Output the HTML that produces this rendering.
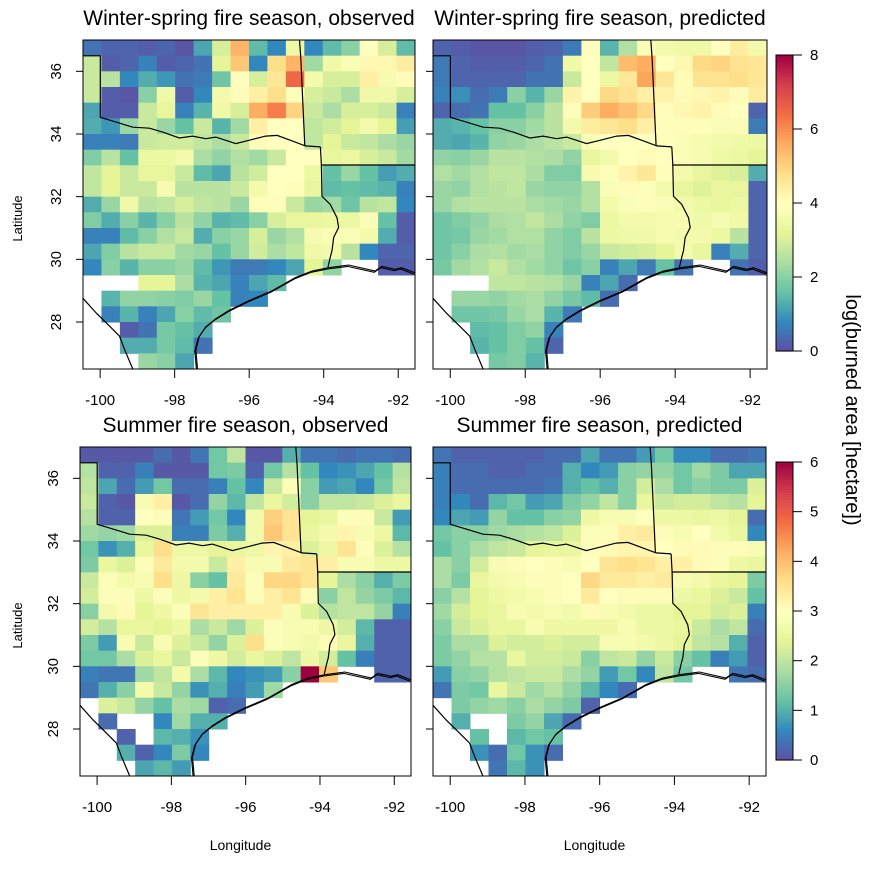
<!DOCTYPE html>
<html><head><meta charset="utf-8"><style>
html,body{margin:0;padding:0;background:#fff;}
svg{display:block;font-family:"Liberation Sans",Arial,sans-serif;}
</style></head><body>
<svg id="chart" width="889" height="872" viewBox="0 0 889 872" xmlns="http://www.w3.org/2000/svg"></svg>
<script>
const N = null;
// Winter-spring observed (rows north->south, 18 cols west->east)
const obsWS = [
[0.5,0.3,0.3,0.2,0.3,0.1,1.2,3,5.5,1.5,0.8,3.5,0.8,1.5,2,4,3,1.5],
[2.8,0.2,0.3,0.7,0.2,0.3,0.5,3.2,5.2,0.8,4.8,5.5,2.3,3.5,3.8,4.2,4.2,4.5],
[2.8,2.6,0.8,1.3,1.0,0.5,0.6,1.7,4,3,4.6,6.5,3.6,3,3,4.4,3.7,4.1],
[2.8,0.2,0.1,2,3.5,0.2,0.8,3.6,4.1,4.4,4.8,3.9,3,2.8,2.4,3.5,3.5,3],
[1.2,0.2,0.2,2.8,3.3,0.7,1.4,3.5,3,5.6,6.2,5,2.8,2.4,3,3,2.8,0.7],
[1.3,1,2.2,2.8,2.2,1.6,2.8,1.4,2.3,4.4,4,4,2.7,2.9,3.2,3.6,3.2,1.1],
[0.7,0.7,0.6,2.8,2.9,2.9,2.7,2.4,2.8,4.1,4,4,2.7,3.2,2.8,2.7,2.4,2.2],
[1.9,2.6,1.6,3.4,3.4,3.6,2.4,2.1,2.5,2.3,2.8,4,4,3.3,3.4,3,2.8,2.3],
[2.7,3.2,2.8,3.3,3.3,2.8,1.5,1.2,2.6,2.9,4,4,3.4,1.6,2.2,1.6,1.1,1.3],
[2.7,3.2,2.8,2.8,3.7,2.6,2.6,2.6,2.8,3.6,4,3.9,3.3,1.5,1.6,1.5,1.4,0.7],
[1.3,2.2,3.5,2.6,2.7,3,2.7,2.6,2.2,3.9,3.9,2.8,2.2,2.3,1.7,2.6,2.7,0.8],
[1.9,1.3,2,1.4,2,2.6,2.1,1.4,1.5,2,3,3.3,3.3,3.4,3.4,3.8,1.6,0.2],
[0.7,0.7,1.5,2,2.5,2.8,1.3,2,2.2,3,2.2,2.5,3.7,3.8,3.8,3.6,1.3,0.2],
[1.2,1.9,2.6,2.8,2.8,2.3,2.2,1.6,2.2,2.9,2.4,2.7,3.5,3.6,2.6,0.8,0.3,0.3],
[0.8,2,1.4,2,2,2.2,1.5,1,0.6,0.6,0.8,1.2,3.2,2.1,N,N,0.2,0.2],
[N,N,N,3.2,3.2,2.4,1.4,1.2,0.7,1.2,1.5,N,N,N,N,N,N,N],
[N,1.4,2.1,2.1,2,1.9,2.2,1.6,0.7,0.8,N,N,N,N,N,N,N,N],
[N,0.7,1.4,0.7,1.2,2,1.5,1.7,N,N,N,N,N,N,N,N,N,N],
[N,N,0.2,0.5,1.8,1.6,1.3,N,N,N,N,N,N,N,N,N,N,N],
[N,N,1.3,1.3,1.8,1.5,0.5,N,N,N,N,N,N,N,N,N,N,N],
[N,N,N,2.2,2,1.2,N,N,N,N,N,N,N,N,N,N,N,N]];
// Winter-spring predicted
const predWS = [
[0.3,0.2,0.1,0.1,0.1,0.2,0.3,0.6,4,1.4,2.5,3.8,3.6,3.5,3.5,4,4.5,3.6],
[0.6,0.3,0.2,0.2,0.2,0.3,0.5,3.5,4,2.7,5.4,5.6,4,4.2,4.9,5,4.7,4.6],
[0.6,0.3,0.3,0.3,0.3,0.5,0.5,2.8,4,3.4,4.6,5.7,4.6,4.1,4.7,4.7,4.8,4.6],
[0.7,0.9,0.4,0.6,2,1.4,2.2,4.3,4,4.9,4.7,4.4,4.3,4.1,4.2,4.3,4.1,4.5],
[0.3,0.4,0.5,1.6,1.6,2,2.6,3.9,5.1,5.6,5.3,4.9,3.9,4.2,4.3,4.1,4,0.3],
[1.3,1.4,1.6,2,2,2.3,2.6,3.6,4.5,4.6,4.8,4.4,3.9,3.9,3.9,3.8,3.8,0.6],
[1.3,1.2,1.4,2.1,2.2,2.4,2.6,2.8,3.8,4,4,4,3.9,3.8,3.7,3.6,3.5,3.4],
[2.1,2,2.2,2.6,2.6,2.5,2.4,2.1,3.3,3.6,4,4.1,4,3.8,3.7,3.5,3.4,3.2],
[2.5,2.3,2.5,2.7,2.7,2.4,1.9,1.9,3.7,3.9,4.3,4.6,3.9,3.6,3.3,3.1,3,1.3],
[2.2,2.1,2.5,2.6,2.7,2.2,2.1,2.1,2.5,3.8,4.1,3.9,3.6,3.3,3.1,3.3,3.3,0.3],
[2.2,2.5,2.6,2.6,2.6,2.4,2.3,2.2,2.5,3.6,3.8,3.9,3.8,3.6,3.4,3.3,3.4,0.3],
[1.7,1.9,2.1,2.4,2.5,2.7,2.4,2.1,1.9,3.4,3.6,3.6,3.7,3.7,3.5,3.7,3.5,0.3],
[1.7,1.8,2.2,2.3,2.5,2.5,2.1,1.9,2.6,3.4,3.5,3.5,3.7,3.6,3.6,3.4,2.6,0.3],
[1.7,2,2.4,2.5,2.3,2.4,2.1,1.9,2.2,2.8,2.9,3,3.2,3.6,3.3,0.7,1.3,0.3],
[1.8,2.3,2.5,2.8,2.5,2.3,2.1,1.7,2,0.7,1.2,0.6,1.6,0.5,N,N,0.5,0.2],
[N,N,N,2.7,2.7,2.6,2.5,2.2,0.7,1.2,0.4,N,N,N,N,N,N,N],
[N,2.2,2.2,2.1,2.3,2.4,2.1,1.8,1.5,0.4,N,N,N,N,N,N,N,N],
[N,1.7,1.7,1.8,2.2,2.4,1.4,0.6,N,N,N,N,N,N,N,N,N,N],
[N,N,1.5,1.6,1.9,2.1,0.7,N,N,N,N,N,N,N,N,N,N,N],
[N,N,1.4,1.6,1.9,1.6,0.3,N,N,N,N,N,N,N,N,N,N,N],
[N,N,N,1.8,1.9,1.4,N,N,N,N,N,N,N,N,N,N,N,N]];
// Summer observed
const obsSu = [
[0.1,0.1,0.1,0.1,0.3,0.1,0.4,1.3,2,0.1,0.1,1,0.4,0.4,0.3,0.4,0.4,0.3],
[1.9,0.2,0.2,0.5,0.1,0.1,0.1,1.3,1.4,0.2,1.3,1.9,1.2,0.6,0.7,0.9,1.2,1.9],
[2,0.9,0.3,0.8,1.3,0.3,0.3,0.5,1.2,0.6,2.1,2.9,1.5,0.8,0.9,0.6,1.3,2],
[2.1,0.2,0.1,2.8,3.3,0.1,0.3,1.6,1.1,2,2.5,2.2,1.5,2,2,2.1,2.3,2.5],
[1.9,0.2,0.2,3,2.9,0.4,0.8,1.3,0.6,2.7,3.8,3.5,2.4,2.5,2.9,2.9,2.1,0.8],
[1.7,1.6,1.7,2.3,2.3,0.5,0.5,1.4,1,2.7,3.9,3.5,2.5,2.7,3.2,2.8,2.6,1.1],
[1.3,0.7,1,2.5,3.6,2.6,2.6,2.4,2.5,2.6,3.2,3.3,2.3,2.6,3.5,2.9,2.3,1.9],
[1.4,2.5,2.3,2.9,3.4,2.7,2.7,2.1,3.3,2.8,2.8,3.4,3.5,3.3,2.8,2.8,2.6,2.6],
[2.1,2.9,2.7,2.8,3.6,2.6,1.5,1.2,3.4,2.9,3.7,3.7,3.5,2.4,1.8,1.5,1,1.4],
[2.2,2.9,2.9,2.6,2.9,2.6,2.7,3.3,3.5,2.9,3.3,3.5,2.9,1.5,2,1.6,1.4,1.1],
[1.5,2.7,3.1,2.4,2.6,2.9,3.5,3.3,3.3,3.3,3.3,2.8,2.3,1.9,2,2,1.6,0.5],
[2.2,1.9,2.5,2.5,2.4,2.6,1.8,2.1,1.7,2.3,2.9,2.8,2.8,2.6,2.2,1.1,0.2,0.2],
[1.4,0.8,2.8,2.1,2.8,2.3,2.1,1.6,2.3,3.6,2.9,2.8,2.7,3.1,2.5,1,0.2,0.2],
[1.3,1.3,1.8,2.3,2.5,2.1,2.9,2.6,2.2,2.5,2.3,2,2.6,2.2,1.2,0.5,0.2,0.2],
[0.5,0.4,0.4,1.7,2,2.7,1.8,1.1,0.6,0.7,0.8,1.5,6,3.9,N,N,0.2,0.2],
[0.4,1,1.5,2.7,2.1,1.6,0.7,1,0.5,0.8,1.7,N,N,N,N,N,N,N],
[N,2.3,2.1,1.6,1.2,1.8,1.7,0.2,0.3,N,N,N,N,N,N,N,N,N],
[N,0.3,N,N,0.6,1.7,1,1,N,N,N,N,N,N,N,N,N,N],
[N,N,0.2,N,1.1,1,0.7,N,N,N,N,N,N,N,N,N,N,N],
[N,N,1,0.2,0.6,1.4,0.6,N,N,N,N,N,N,N,N,N,N,N],
[N,N,N,0.9,1.1,0.8,N,N,N,N,N,N,N,N,N,N,N,N]];
// Summer predicted
const predSu = [
[0.4,0.2,0.2,0.2,0.2,0.2,0.3,0.3,0.9,0.4,0.4,0.8,1.3,0.6,0.6,0.3,0.3,0.4],
[0.5,0.3,0.3,0.2,0.2,0.3,0.3,1,0.6,0.8,1.5,1.6,1.6,1.3,1.7,1.4,0.9,0.9],
[0.5,0.3,0.3,0.3,0.3,0.3,0.4,1,1.2,1,1.5,2.2,1.8,1.3,1.5,1.4,1.4,2.3],
[0.5,0.6,0.3,1.1,1.3,0.8,0.9,1.4,1.6,2,1.5,2.5,2.1,2.2,2.2,2,1.9,2.4],
[0.6,0.9,0.8,1.6,1.2,1.2,1.5,1.6,2.6,2.8,2.8,3,2.6,2.6,2.5,2.6,2.4,0.3],
[1.3,1.5,1.5,1.7,1.8,1.9,2,2.3,2.9,2.9,3.3,3.4,2.9,2.8,3,2.7,2.5,0.6],
[1.2,1.5,1.8,2,2.1,2.4,2.5,2.5,2.9,3.1,3.2,3.2,3,3.1,3.1,2.9,2.9,2.8],
[1.8,1.5,2.2,2.8,2.9,3,2.9,2.8,3,3.5,3.6,3.5,3.3,3.3,3.1,2.9,2.6,2.5],
[1.8,1.4,2.5,2.7,2.8,2.9,2.9,3,3.7,3.4,3.4,3.3,3.4,2.8,2.7,2.5,2.4,1.4],
[1.5,1.9,2.4,2.6,2.7,2.8,2.9,3,3.4,3,2.9,2.9,2.9,2.6,2.5,2.3,2.1,1.2],
[1.7,2.2,2.4,2.5,2.8,2.7,2.8,2.7,3.1,2.8,2.7,2.6,2.6,2.4,2.4,2.2,2.3,0.5],
[1.5,2.1,2.3,2.5,2.5,2.8,2.6,2.6,2.6,2.6,2.8,2.6,2.6,2.5,2.1,1.8,2,0.3],
[1.4,1.8,1.8,2.3,2.2,2.2,2.3,2.2,2.2,2.8,2.8,2.7,2.6,2.4,2,1.9,1,0.2],
[1.4,1.6,1.9,1.9,2.5,2.2,2.2,2.1,1.5,2,2.1,1.6,2.1,1.5,1.2,0.5,0.8,0.2],
[0.8,1.5,1.6,1.9,2,2.1,2.1,1.8,1.6,0.8,1.3,0.6,2,1.3,N,N,0.4,0.3],
[0.4,1.4,1.3,2.5,2.1,1.7,1.9,1.6,1.1,0.6,0.3,N,N,N,N,N,N,N],
[N,1.4,1.6,1.7,1.5,1.8,1.6,1.4,0.2,N,N,N,N,N,N,N,N,N],
[N,1,N,N,1.4,1.6,0.9,0.3,N,N,N,N,N,N,N,N,N,N],
[N,N,1.2,N,1.1,1.3,1.2,N,N,N,N,N,N,N,N,N,N,N],
[N,N,0.7,0.3,1.3,0.7,0.3,N,N,N,N,N,N,N,N,N,N,N],
[N,N,N,0.4,1.1,0.7,N,N,N,N,N,N,N,N,N,N,N,N]];
const lonTicks = [-100,-98,-96,-94,-92];
const latTicks = [28,30,32,34,36];
const topBarTicks = [0,2,4,6,8];
const botBarTicks = [0,1,2,3,4,5,6];
const titles = ["Winter-spring fire season, observed","Winter-spring fire season, predicted","Summer fire season, observed","Summer fire season, predicted"];

const LON0=-100.46, LON1=-91.55, LAT0=26.5, LAT1=37.0, CELLW=(LON1-LON0)/18, CELLH=0.5;
const SPEC=["#5E4FA2","#3288BD","#66C2A5","#ABDDA4","#E6F598","#FFFFBF","#FEE08B","#FDAE61","#F46D43","#D53E4F","#9E0142"];
function hex(h){return [1,3,5].map(i=>parseInt(h.substr(i,2),16));}
function col(v,max){let t=Math.max(0,Math.min(1,v/max))*10;let i=Math.min(9,Math.floor(t)),f=t-i;
 const a=hex(SPEC[i]),b=hex(SPEC[i+1]);return "rgb("+a.map((x,k)=>Math.round(x+(b[k]-x)*f)).join(",")+")";}
const svg=document.getElementById('chart');
const NS="http://www.w3.org/2000/svg";
function mk(tag,attrs,parent){const e=document.createElementNS(NS,tag);for(const k in attrs)e.setAttribute(k,attrs[k]);(parent||svg).appendChild(e);return e;}

const stateA=[[0,48],[52,48],[52,235],[95,248],[150,265],[200,268],[240,280],[290,298],[330,292],[370,300],[400,295],[430,305],[460,315],[500,305],[550,292],[585,290],[625,305],[670,322],[715,325]];
const stateB=[[652,0],[656,55],[668,322]];
const stateC=[[715,325],[718,380],[1000,380]];
const sabine=[[718,380],[720,475],[745,500],[765,540],[770,570],[755,600],[750,640],[745,660],[738,690]];
const coast=[[1000,708],[960,692],[940,697],[900,688],[880,702],[800,684],[740,692],[690,702],[640,722],[570,762],[500,792],[440,822],[400,847],[370,872],[350,902],[340,942],[345,1000]];
const rio=[[0,785],[40,830],[80,870],[110,900],[125,940],[150,1000]];

const panels=[
 {L:83,T:40,W:332,H:329,d:obsWS,max:8,yl:true},
 {L:433,T:40,W:334,H:329,d:predWS,max:8,yl:false},
 {L:80,T:447,W:331,H:329,d:obsSu,max:6,yl:true},
 {L:433,T:447,W:333,H:329,d:predSu,max:6,yl:false}];
const names=["ws-observed","ws-predicted","summer-observed","summer-predicted"];
panels.forEach((p,pi)=>{
 const g=mk('g',{});
 
 
 const X=lon=>p.L+(lon-LON0)/(LON1-LON0)*p.W;
 const Y=lat=>p.T+(LAT1-lat)/(LAT1-LAT0)*p.H;
 const cp=mk('clipPath',{id:'cp'+pi},g);mk('rect',{x:p.L,y:p.T,width:p.W,height:p.H},cp);
 const cells=mk('g',{'clip-path':'url(#cp'+pi+')'},g);
 p.d.forEach((row,r)=>row.forEach((v,c)=>{ if(v===null)return;
  const x0=X(LON0+c*CELLW),x1=X(LON0+(c+1)*CELLW),y0=Y(LAT1-r*CELLH),y1=Y(LAT1-(r+1)*CELLH);
  const e=mk('rect',{x:x0.toFixed(2),y:y0.toFixed(2),width:(x1-x0+0.5).toFixed(2),height:(y1-y0+0.5).toFixed(2),fill:col(v,p.max)},cells);
  
  
 }));
 const F=pt=>(p.L+pt[0]/1000*p.W).toFixed(1)+","+(p.T+pt[1]/1000*p.H).toFixed(1);
 [stateA,stateB,stateC,sabine,rio].forEach(l=>{const e=mk('polyline',{points:l.map(F).join(" "),fill:'none',stroke:'#000','stroke-width':1.2},cells);
  
  });
 [[0,0],[-3,4]].forEach(o=>{const e=mk('polyline',{points:coast.map(q=>F([q[0]+o[0],q[1]+o[1]])).join(" "),fill:'none',stroke:'#000','stroke-width':1.1},cells);
  
  });
 const fr=mk('rect',{x:p.L,y:p.T,width:p.W,height:p.H,fill:'none',stroke:'#000','stroke-width':1},g);
 
 
 lonTicks.forEach(t=>{const x=X(t);mk('line',{x1:x,x2:x,y1:p.T+p.H,y2:p.T+p.H+9,stroke:'#000'},g);
  const e=mk('text',{x:x,y:p.T+p.H+36,'text-anchor':'middle','font-size':15},g);e.textContent=t;
  
  });
 latTicks.forEach(t=>{const y=Y(t);mk('line',{x1:p.L-7,x2:p.L,y1:y,y2:y,stroke:'#000'},g);
  if(p.yl){const e=mk('text',{x:0,y:0,'text-anchor':'middle','font-size':15,transform:'translate('+(p.L-22)+','+y+') rotate(-90)'},g);e.textContent=t;
   
   }});
 const tt=mk('text',{x:p.L+p.W/2,y:p.T-15,'text-anchor':'middle','font-size':21},g);tt.textContent=titles[pi];
 
 
 if(p.yl){const e=mk('text',{x:0,y:0,'text-anchor':'middle','font-size':13,transform:'translate(22,'+(p.T+p.H/2+14)+') rotate(-90)'},g);e.textContent="Latitude";
  
  }
 if(pi>=2){const e=mk('text',{x:p.L+p.W/2-5,y:850,'text-anchor':'middle','font-size':14},g);e.textContent="Longitude";
  
  }
});
[{T:55,B:351,max:8,ticks:topBarTicks,n:'top'},{T:462,B:760,max:6,ticks:botBarTicks,n:'bottom'}].forEach(cb=>{
 const g=mk('g',{});
 
 
 const steps=120,h=(cb.B-cb.T)/steps;
 for(let i=0;i<steps;i++){mk('rect',{x:776,y:(cb.B-(i+1)*h).toFixed(2),width:17,height:(h+0.6).toFixed(2),fill:col((i+0.5)/steps*cb.max,cb.max)},g);}
 mk('rect',{x:776,y:cb.T,width:17,height:cb.B-cb.T,fill:'none',stroke:'#000'},g);
 cb.ticks.forEach(t=>{const y=cb.B-t/cb.max*(cb.B-cb.T);mk('line',{x1:793,x2:802,y1:y,y2:y,stroke:'#000'},g);
  const e=mk('text',{x:810,y:y+5,'font-size':15},g);e.textContent=t;
  
  });
});
const lg=mk('text',{x:0,y:0,'text-anchor':'middle','font-size':20,transform:'translate(846,410) rotate(90)'});
lg.textContent="log(burned area [hectare])";


</script>
</body></html>
